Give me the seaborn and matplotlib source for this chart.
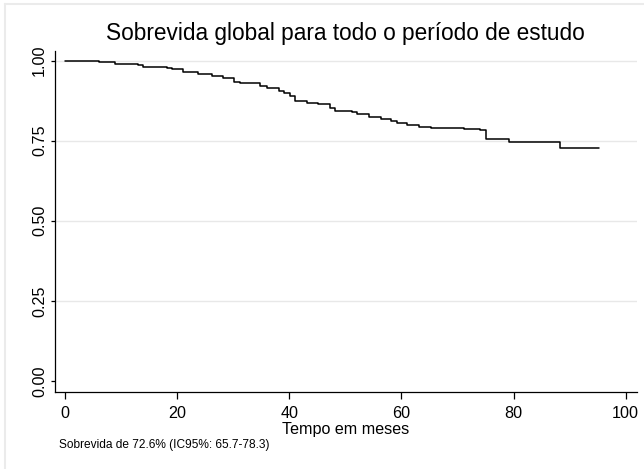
import matplotlib
matplotlib.use("Agg")
import matplotlib.pyplot as plt
import seaborn as sns
import pandas as pd
from matplotlib.lines import Line2D

# Kaplan-Meier estimate (step times in months, survival after each step)
tempo = [0, 6.0, 8.9, 13.1, 14.0, 18.2, 19.1, 21.1, 23.8, 26.2,
         28.1, 30.1, 31.3, 34.8, 36.0, 38.1, 39.0, 40.2, 41.1, 43.2,
         45.2, 47.3, 48.1, 51.2, 52.1, 54.2, 56.3, 58.1, 59.2, 61.0,
         63.1, 65.2, 71.1, 74.1, 75.1, 79.2, 88.2, 95.3]
sobrevida = [1.0, 0.997, 0.990, 0.987, 0.981, 0.978, 0.973, 0.964, 0.958, 0.953,
             0.945, 0.933, 0.929, 0.922, 0.916, 0.906, 0.898, 0.891, 0.875, 0.867,
             0.865, 0.851, 0.844, 0.839, 0.833, 0.823, 0.818, 0.811, 0.805, 0.799,
             0.794, 0.791, 0.786, 0.782, 0.756, 0.747, 0.726, 0.726]

x_ticks = [0, 20, 40, 60, 80, 100]
y_ticks = [0.0, 0.25, 0.50, 0.75, 1.0]
y_labels = ["0.00", "0.25", "0.50", "0.75", "1.00"]

titulo = "Sobrevida global para todo o período de estudo"
rotulo_x = "Tempo em meses"
nota = "Sobrevida de 72.6% (IC95%: 65.7-78.3)"


def main():
    sns.set_style("ticks")
    plt.rcParams["font.family"] = ["Liberation Sans", "DejaVu Sans"]
    plt.rcParams["text.color"] = "black"
    plt.rcParams["axes.labelcolor"] = "black"

    df = pd.DataFrame({"tempo": tempo, "sobrevida": sobrevida})

    fig = plt.figure(figsize=(6.44, 4.69), dpi=100)
    fig.patch.set_facecolor("white")
    ax = fig.add_axes([55 / 644, 1 - 391.7 / 469, 581.7 / 644, 340.7 / 469])

    # linhas de grade horizontais (sem a do zero)
    for y in y_ticks[1:]:
        ax.axhline(y, color="#e8e8e8", lw=1.0, zorder=0)

    sns.lineplot(data=df, x="tempo", y="sobrevida", drawstyle="steps-post",
                 estimator=None, color="black", lw=1.1, ax=ax)

    ax.set_xlim(-1.78, 101.96)
    ax.set_ylim(-0.0334, 1.030)
    ax.set_xticks(x_ticks)
    ax.set_yticks(y_ticks)
    ax.set_yticklabels(y_labels)
    ax.tick_params(axis="x", length=5.0, width=0.9, pad=5.5, labelsize=11.6, colors="black")
    ax.tick_params(axis="y", length=2.9, width=0.9, pad=2.8, labelsize=11.6, colors="black")
    plt.setp(ax.get_yticklabels(), rotation=90, va="center")

    for s in ["top", "right"]:
        ax.spines[s].set_visible(False)
    for s in ["left", "bottom"]:
        ax.spines[s].set_color("black")
        ax.spines[s].set_linewidth(0.9)

    ax.set_xlabel(rotulo_x, fontsize=11.6, labelpad=0.5, color="black")
    ax.set_ylabel("")
    ax.set_title(titulo, fontsize=16.3, pad=8, color="black")

    fig.text(59 / 644, 1 - 445 / 469, nota, fontsize=8.6, va="center", ha="left", color="black")

    # moldura clara da regiao do grafico
    fig.add_artist(Line2D([5 / 644, 1], [1 - 4 / 469, 1 - 4 / 469], color="#ebebeb", lw=1.5))
    fig.add_artist(Line2D([5 / 644, 5 / 644], [0, 1 - 4 / 469], color="#ebebeb", lw=1.5))

    fig.savefig("out.png", dpi=100)


if __name__ == "__main__":
    main()
